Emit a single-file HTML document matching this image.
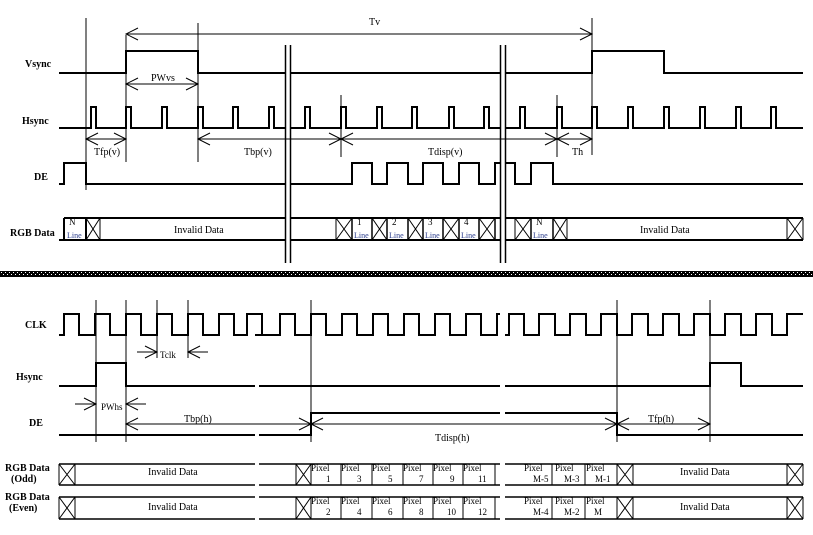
<!DOCTYPE html>
<html><head><meta charset="utf-8">
<style>
html,body{margin:0;padding:0;background:#fff;}
svg{display:block;}
text{font-family:"Liberation Serif",serif;font-size:10px;fill:#000;}
.lbl{font-weight:bold;font-size:10px;}
.s{font-size:9px;}
.bl{font-size:8px;fill:#2a3c8c;}
</style></head>
<body>
<svg id="s" width="813" height="535" viewBox="0 0 813 535" xmlns="http://www.w3.org/2000/svg">
<defs>
<pattern id="chk" x="0" y="0" width="4" height="6" patternUnits="userSpaceOnUse">
<rect width="4" height="6" fill="#000"/>
<rect x="1" y="2" width="1" height="1" fill="#fff"/>
<rect x="3" y="4" width="1" height="1" fill="#fff"/>
</pattern>
</defs>
<rect x="0" y="271" width="813" height="6" fill="url(#chk)"/>
<g id="w" fill="none" stroke="#000"></g>

<text class="lbl" x="25" y="67">Vsync</text>
<text class="lbl" x="22" y="124">Hsync</text>
<text class="lbl" x="34" y="180">DE</text>
<text class="lbl" x="10" y="236">RGB Data</text>
<text class="lbl" x="25" y="328">CLK</text>
<text class="lbl" x="16" y="380">Hsync</text>
<text class="lbl" x="29" y="426">DE</text>
<text class="lbl" x="5" y="471">RGB Data</text>
<text class="lbl" x="11" y="482">(Odd)</text>
<text class="lbl" x="5" y="500">RGB Data</text>
<text class="lbl" x="9" y="511">(Even)</text>

<text x="369" y="25">Tv</text>
<text x="151" y="81">PWvs</text>
<text x="94" y="155">Tfp(v)</text>
<text x="244" y="155">Tbp(v)</text>
<text x="428" y="155">Tdisp(v)</text>
<text x="572" y="155">Th</text>

<text x="174" y="233">Invalid Data</text>
<text x="640" y="233">Invalid Data</text>
<text x="69" y="225" class="s">N</text><text x="67" y="238" class="bl">Line</text>
<text x="357" y="225" class="s">1</text><text x="354" y="238" class="bl">Line</text>
<text x="392" y="225" class="s">2</text><text x="389" y="238" class="bl">Line</text>
<text x="428" y="225" class="s">3</text><text x="425" y="238" class="bl">Line</text>
<text x="464" y="225" class="s">4</text><text x="461" y="238" class="bl">Line</text>
<text x="536" y="225" class="s">N</text><text x="533" y="238" class="bl">Line</text>

<text x="160" y="358" class="s">Tclk</text>
<text x="101" y="410" class="s">PWhs</text>
<text x="184" y="422">Tbp(h)</text>
<text x="435" y="441">Tdisp(h)</text>
<text x="648" y="422">Tfp(h)</text>

<text x="148" y="475">Invalid Data</text>
<text x="148" y="510">Invalid Data</text>
<text x="680" y="475">Invalid Data</text>
<text x="680" y="510">Invalid Data</text>

<g class="s">
<text x="311" y="471" class="s">Pixel</text><text x="326" y="482" class="s">1</text>
<text x="341" y="471" class="s">Pixel</text><text x="357" y="482" class="s">3</text>
<text x="372" y="471" class="s">Pixel</text><text x="388" y="482" class="s">5</text>
<text x="403" y="471" class="s">Pixel</text><text x="419" y="482" class="s">7</text>
<text x="433" y="471" class="s">Pixel</text><text x="450" y="482" class="s">9</text>
<text x="463" y="471" class="s">Pixel</text><text x="478" y="482" class="s">11</text>
<text x="311" y="504" class="s">Pixel</text><text x="326" y="515" class="s">2</text>
<text x="341" y="504" class="s">Pixel</text><text x="357" y="515" class="s">4</text>
<text x="372" y="504" class="s">Pixel</text><text x="388" y="515" class="s">6</text>
<text x="403" y="504" class="s">Pixel</text><text x="419" y="515" class="s">8</text>
<text x="433" y="504" class="s">Pixel</text><text x="447" y="515" class="s">10</text>
<text x="463" y="504" class="s">Pixel</text><text x="478" y="515" class="s">12</text>
<text x="524" y="471" class="s">Pixel</text><text x="533" y="482" class="s">M-5</text>
<text x="555" y="471" class="s">Pixel</text><text x="564" y="482" class="s">M-3</text>
<text x="586" y="471" class="s">Pixel</text><text x="595" y="482" class="s">M-1</text>
<text x="524" y="504" class="s">Pixel</text><text x="533" y="515" class="s">M-4</text>
<text x="555" y="504" class="s">Pixel</text><text x="564" y="515" class="s">M-2</text>
<text x="586" y="504" class="s">Pixel</text><text x="594" y="515" class="s">M</text>
</g>
</svg>
<script>
(function(){
var g=document.getElementById('w'),NS='http://www.w3.org/2000/svg';
function P(d,w){var p=document.createElementNS(NS,'path');p.setAttribute('d',d);p.setAttribute('stroke-width',w||2);g.appendChild(p);}
function L(x1,y1,x2,y2,w){P('M'+x1+' '+y1+'L'+x2+' '+y2,w||1);}
function wave(a,b,lo,hi,edges,startHigh){var h=startHigh,y=h?hi:lo,d='M'+a+' '+y;
 edges.forEach(function(e){d+='L'+e+' '+y;h=!h;y=h?hi:lo;d+='L'+e+' '+y;});d+='L'+b+' '+y;P(d,2);}
function pulses(list,w){var e=[];list.forEach(function(x){e.push(x,x+w);});return e;}
function clk(r){var e=[];r.forEach(function(x){e.push(x,x+15);});return e;}
function ah(x,y,dir){P('M'+(x-dir*12)+' '+(y-6)+'L'+x+' '+y+'L'+(x-dir*12)+' '+(y+6),1);}
function X(a,b,t,bt){P('M'+a+' '+t+'L'+b+' '+bt+'M'+a+' '+bt+'L'+b+' '+t+'M'+a+' '+t+'L'+a+' '+bt+'M'+b+' '+t+'L'+b+' '+bt,1);}
function bus(a,b,t,bt,w){P('M'+a+' '+t+'L'+b+' '+t+'M'+a+' '+bt+'L'+b+' '+bt,w||2);}
function V(x,t,bt,w){L(x,t,x,bt,w||2);}
wave(59,285,73,51,[126,198]);wave(291,500,73,51,[]);wave(505,803,73,51,[592,664]);
wave(59,285,128,107,pulses([91,126,162,198,233,269],5));
wave(291,500,128,107,pulses([305,341,377,412,449,484],5));
wave(505,803,128,107,pulses([520,557,592,628,664,700,736,771],5));
wave(59,285,184,163,[64,86]);
wave(291,500,184,163,[352,372,387,408,423,443,459,479,495]);
wave(505,803,184,163,[515,531,553],true);
V(285.5,45,263,1.5);V(290.5,45,263,1.5);V(500.5,45,263,1.5);V(505.5,45,263,1.5);
L(86,18,86,190);L(126,35,126,162);L(198,23,198,162);L(592,18,592,155);
L(341,95,341,157);L(557,95,557,157);
L(126,34,592,34);ah(126,34,-1);ah(592,34,1);
L(126,84,198,84);ah(126,84,-1);ah(198,84,1);
L(86,139,126,139);L(198,139,592,139);ah(86,139,-1);ah(126,139,1);ah(198,139,-1);ah(341,139,1);ah(341,139,-1);ah(557,139,1);ah(557,139,-1);ah(592,139,1);
var t=218,bt=240;
P('M59 240L64 240L64 218',2);bus(64,285,t,bt);V(64,t,bt);V(86,t,bt);X(86,100,t,bt);
bus(291,500,t,bt);
[[336,352],[372,387],[408,423],[443,459],[479,495]].forEach(function(c){X(c[0],c[1],t,bt);});
[352,372,387,408,423,443,459,479,495].forEach(function(x){V(x,t,bt,1.5);});
bus(505,803,t,bt);X(515,531,t,bt);X(553,567,t,bt);X(787,803,t,bt);V(531,t,bt,1.5);V(553,t,bt,1.5);
wave(59,255,335,314,clk([64,95,126,157,188,219,247]));
wave(259,500,335,314,clk([280,311,342,373,404,435,466,497]).slice(0,-1));
wave(505,803,335,314,[509,524,539,555,570,586,601,617,632,648,663,679,694,710,725,741,756,772,787]);
wave(59,255,386,363,[96,126]);wave(259,500,386,363,[]);wave(505,803,386,363,[710,741]);
wave(59,255,435,413,[]);wave(259,500,435,413,[311]);wave(505,803,435,413,[617],true);
[96,126,311,617,710].forEach(function(x){L(x,300,x,442);});L(157,300,157,358);L(188,300,188,358);
L(137,352,157,352);ah(157,352,1);L(188,352,208,352);ah(188,352,-1);
L(75,404,96,404);ah(96,404,1);L(126,404,146,404);ah(126,404,-1);
L(126,424,710,424);ah(126,424,-1);ah(311,424,1);ah(311,424,-1);ah(617,424,1);ah(617,424,-1);ah(710,424,1);
function rgb(t,bt){
 bus(59,255,t,bt,1.5);X(59,75,t,bt);
 bus(259,500,t,bt,1.5);X(296,311,t,bt);[341,372,403,433,463,495].forEach(function(x){V(x,t,bt,1);});
 bus(505,803,t,bt,1.5);[552,585].forEach(function(x){V(x,t,bt,1);});X(617,633,t,bt);X(787,803,t,bt);
}
rgb(464,485);rgb(497,519);
})();
</script>
</body></html>
